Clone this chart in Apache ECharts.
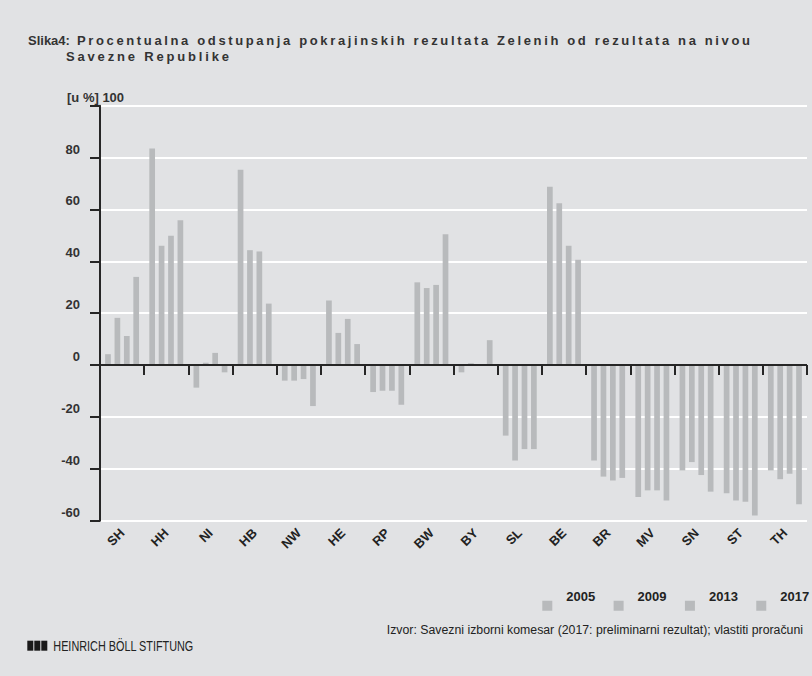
<!DOCTYPE html>
<html><head><meta charset="utf-8">
<script src="https://cdn.jsdelivr.net/npm/echarts@6/dist/echarts.min.js"></script>
<style>html,body{margin:0;padding:0;background:#e1e2e4}#c{width:812px;height:676px}</style>
</head><body><div id="c"></div>
<script>
const categories = ['SH','HH','NI','HB','NW','HE','RP','BW','BY','SL','BE','BR','MV','SN','ST','TH'];
const seriesNames = ['2005','2009','2013','2017'];
const v2005 = [4.2, 83.5, -8.7, 75.3, -6.0, 24.9, -10.4, 31.9, -2.8, -27.2, 68.8, -36.8, -50.9, -40.6, -49.4, -40.6];
const v2009 = [18.2, 46.0, 0.9, 44.3, -6.0, 12.4, -9.9, 29.7, 0.7, -36.8, 62.4, -43.0, -48.3, -37.4, -52.2, -44.0];
const v2013 = [11.2, 49.9, 4.7, 43.8, -5.4, 17.8, -9.9, 30.9, 0.3, -32.4, 46.0, -44.5, -48.3, -42.4, -52.7, -41.9];
const v2017 = [34.0, 55.8, -2.8, 23.7, -15.8, 8.1, -15.3, 50.4, 9.6, -32.4, 40.6, -43.5, -52.2, -48.8, -58.0, -53.7];
const yTicks = [-60, -40, -20, 0, 20, 40, 60, 80, 100];
const titleLead = 'Slika4:';
const titleLine1 = 'Procentualna odstupanja pokrajinskih rezultata Zelenih od rezultata na nivou';
const titleLine2 = 'Savezne Republike';
const unitLabel = '[u %] 100';
const sourceText = 'Izvor: Savezni izborni komesar (2017: preliminarni rezultat); vlastiti proračuni';
const logoText = 'HEINRICH BÖLL STIFTUNG';

const allValues = [v2005, v2009, v2013, v2017];
const BAR = '#b8babc';
const DARK = '#262626';
const SANS = '"Liberation Sans", Arial, sans-serif';

const chart = echarts.init(document.getElementById('c'), null, {renderer: 'svg'});

const series = seriesNames.map((name, i) => ({
  name: name,
  type: 'bar',
  data: allValues[i],
  barWidth: 5.7,
  barGap: '65%',
  itemStyle: {color: BAR},
  emphasis: {disabled: true},
  markLine: i === 3 ? {
    silent: true,
    symbol: ['none', 'none'],
    label: {show: false},
    lineStyle: {color: DARK, width: 2, type: 'solid'},
    data: [{yAxis: 0}]
  } : undefined
}));

// legend marker: square placed low in a taller icon box so the year text sits higher
const legendIcon = 'path://M0,0L10,0L10,0Z M0,17.4L10,17.4L10,27.4L0,27.4Z';

const option = {
  backgroundColor: '#e1e2e4',
  animation: false,
  grid: {left: 100, right: 5, top: 105.7, bottom: 155.3, containLabel: false},
  legend: {
    data: seriesNames,
    left: 542.3, top: 583.3,
    width: 300,
    padding: 0,
    icon: legendIcon,
    itemWidth: 10, itemHeight: 27.4, itemGap: 18.4,
    selectedMode: false,
    itemStyle: {color: BAR, borderWidth: 0},
    textStyle: {fontFamily: SANS, fontWeight: 'bold', fontSize: 13, color: '#222', padding: [0, 0, 0, 9]}
  },
  xAxis: {
    type: 'category',
    data: categories,
    axisLine: {show: false},
    axisTick: {show: true, length: 10, lineStyle: {color: DARK, width: 2}},
    axisLabel: {interval: 0, rotate: 45, margin: 10, fontFamily: SANS, fontWeight: 'bold', fontSize: 13, color: '#222'},
    splitLine: {show: false}
  },
  yAxis: {
    type: 'value',
    min: yTicks[0], max: yTicks[yTicks.length - 1], interval: yTicks[1] - yTicks[0],
    axisLine: {show: true, lineStyle: {color: DARK, width: 2}},
    axisTick: {show: true, length: 10, lineStyle: {color: DARK, width: 2}},
    axisLabel: {
      margin: 20, fontFamily: SANS, fontWeight: 'bold', fontSize: 13, color: '#333',
      verticalAlign: 'bottom', lineHeight: 13, padding: [0, 0, 2, 0],
      formatter: v => (v === yTicks[yTicks.length - 1] ? '' : String(v))
    },
    splitLine: {show: true, lineStyle: {color: '#ffffff', width: 2}}
  },
  graphic: [
    {type: 'text', x: 28, y: 40, style: {text: titleLead, font: 'bold 13px ' + SANS, fill: '#333', verticalAlign: 'middle'}},
    {type: 'text', x: 77, y: 40, style: {text: titleLine1, font: 'bold 13px ' + SANS, fill: '#333', verticalAlign: 'middle'}},
    {type: 'text', x: 66, y: 56, style: {text: titleLine2, font: 'bold 13px ' + SANS, fill: '#333', verticalAlign: 'middle'}},
    {type: 'text', x: 67, y: 97, style: {text: unitLabel, font: 'bold 13px ' + SANS, fill: '#333', verticalAlign: 'middle'}},
    {type: 'text', x: 803, y: 630, style: {text: sourceText, font: '12.3px ' + SANS, fill: '#222', align: 'right', verticalAlign: 'middle'}},
    {type: 'rect', shape: {x: 27.3, y: 640.7, width: 6, height: 10}, style: {fill: '#1a1a1a'}},
    {type: 'rect', shape: {x: 34.3, y: 640.7, width: 6, height: 10}, style: {fill: '#1a1a1a'}},
    {type: 'rect', shape: {x: 41.3, y: 640.7, width: 6, height: 10}, style: {fill: '#1a1a1a'}},
    {type: 'text', x: 53.3, y: 646, style: {text: logoText, font: '14px ' + SANS, fill: '#222', verticalAlign: 'middle'}}
  ],
  series: series
};
chart.setOption(option);

// SVG text fitting: spread letters of the title, condense the narrow-font logo text
const fits = {};
fits[titleLine1] = [673, 'spacing'];
fits[titleLine2] = [163, 'spacing'];
fits[logoText] = [140, 'spacingAndGlyphs'];

function fitTexts() {
  const svg = document.querySelector('#c svg');
  if (!svg) return;
  svg.querySelectorAll('text').forEach(t => {
    const f = fits[t.textContent];
    if (f) { t.setAttribute('textLength', String(f[0])); t.setAttribute('lengthAdjust', f[1]); }
  });
}
fitTexts();
chart.on('finished', fitTexts);
</script>
</body></html>
